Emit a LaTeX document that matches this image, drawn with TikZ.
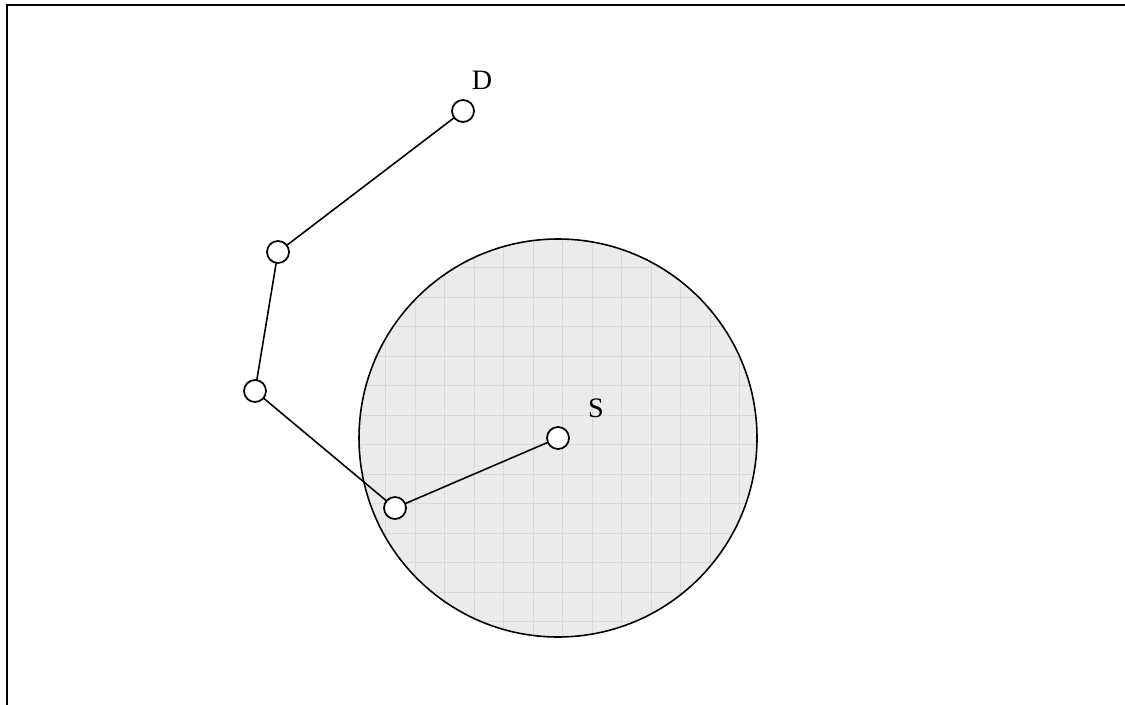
\documentclass[tikz,border=0pt]{standalone}
\usepackage{fontspec}
\setmainfont{Liberation Serif}
\usetikzlibrary{positioning}
\definecolor{zoneFill}{HTML}{EBEBEB}
\definecolor{zoneGrid}{HTML}{D9D9D9}

\begin{document}
\begin{tikzpicture}[
    hop/.style={circle, draw, line width=1pt, fill=white, minimum size=0.44cm, inner sep=0pt},
    link/.style={line width=0.9pt},
    tag/.style={font=\fontsize{16}{19}\selectfont, inner sep=0pt}]

  \useasboundingbox (0,0) rectangle (22.5,14.08);
  \clip (0,0) rectangle (22.5,14.08);

  % frame, only top and left edges fall inside the page
  \draw[line width=1.3pt] (0.14,-1) -- (0.14,13.98) -- (23,13.98);

  % coverage zone of S
  \fill[zoneFill] (11.16,5.32) circle (3.98);
  \begin{scope}
    \clip (11.16,5.32) circle (3.98);
    \begin{scope}[shift={(10.66,8.14)}]
      \draw[zoneGrid, line width=0.4pt, step=0.59] (-7,-9) grid (7,5);
    \end{scope}
  \end{scope}
  \draw[line width=0.9pt] (11.16,5.32) circle (3.98);

  \coordinate (hD) at (9.26,11.86);
  \coordinate (hA) at (5.56,9.04);
  \coordinate (hB) at (5.10,6.26);
  \coordinate (hC) at (7.90,3.92);
  \coordinate (hS) at (11.16,5.32);

  \foreach \a/\b in {hD/hA,hA/hB,hB/hC,hC/hS} {
    \draw[link] (\a) -- (\b);
  }

  \foreach \h in {hD,hA,hB,hC,hS} {
    \node[hop] (n\h) at (\h) {};
  }

  \node[tag] (lD) at (9.64,12.48) {D};
  \node[tag] (lS) at (11.92,5.92) {S};

\end{tikzpicture}
\end{document}
